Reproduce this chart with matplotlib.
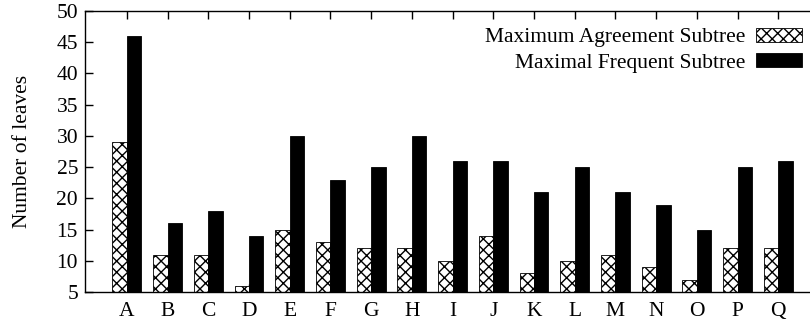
import matplotlib
matplotlib.use("Agg")
import matplotlib.pyplot as plt
from matplotlib.patches import Patch
import numpy as np

categories = ["A", "B", "C", "D", "E", "F", "G", "H", "I", "J", "K", "L", "M", "N", "O", "P", "Q"]
mast = [29, 11, 11, 6, 15, 13, 12, 12, 10, 14, 8, 10, 11, 9, 7, 12, 12]
mfst = [46, 16, 18, 14, 30, 23, 25, 30, 26, 26, 21, 25, 21, 19, 15, 25, 26]
series_names = ["Maximum Agreement Subtree", "Maximal Frequent Subtree"]
yticks = [5, 10, 15, 20, 25, 30, 35, 40, 45, 50]

plt.rcParams['font.family'] = ['Liberation Serif', 'DejaVu Serif']
plt.rcParams['hatch.linewidth'] = 1.0
plt.rcParams['hatch.color'] = 'black'

FS = 15.5
fig = plt.figure(figsize=(8.10, 3.26), dpi=100)
ax = fig.add_axes([0.1049, 0.1043, 0.8951, 0.862])

x = np.arange(len(categories))
w = 0.355
base = 5
ax.bar(x - w / 2, np.array(mast) - base, width=w, bottom=base, color='white',
       edgecolor='black', hatch='xxx', linewidth=0.6, zorder=2)
ax.bar(x + w / 2, np.array(mfst) - base, width=w, bottom=base, color='black',
       edgecolor='black', linewidth=0.6, zorder=2)

ax.set_ylim(5, 50)
ax.set_xlim(-1.03, 16.78)
ax.set_yticks(yticks)
ax.set_xticks(x)
ax.set_xticklabels(categories)
ax.spines['right'].set_visible(False)
for s in ['left', 'top', 'bottom']:
    ax.spines[s].set_linewidth(1.0)

ax.tick_params(axis='y', direction='in', length=6, width=1, labelsize=FS, pad=5,
               right=False)
ax.tick_params(axis='x', direction='in', length=6, width=1, labelsize=FS, pad=7,
               top=True, bottom=True)

ax.set_ylabel("Number of leaves", fontsize=FS)
ax.yaxis.set_label_coords(-0.0735, 0.5)

handles = [Patch(facecolor='white', edgecolor='black', hatch='xxx', linewidth=0.6),
           Patch(facecolor='black', edgecolor='black', linewidth=0.6)]
leg = ax.legend(handles, series_names, loc='upper right', bbox_to_anchor=(0.989, 0.94),
                frameon=False, markerfirst=False, fontsize=FS,
                handlelength=2.15, handleheight=0.62, handletextpad=0.47,
                labelspacing=0.28, borderaxespad=0.0, borderpad=0.0)

fig.savefig("out.png", dpi=100)
